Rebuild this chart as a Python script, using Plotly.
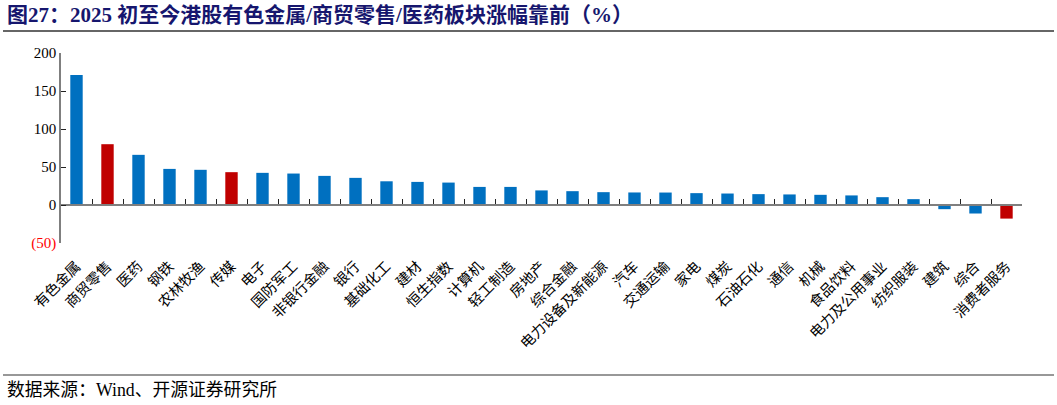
import plotly.graph_objects as go

categories = ["有色金属", "商贸零售", "医药", "钢铁", "农林牧渔", "传媒", "电子", "国防军工",
              "非银行金融", "银行", "基础化工", "建材", "恒生指数", "计算机", "轻工制造", "房地产",
              "综合金融", "电力设备及新能源", "汽车", "交通运输", "家电", "煤炭", "石油石化", "通信",
              "机械", "食品饮料", "电力及公用事业", "纺织服装", "建筑", "综合", "消费者服务"]
values = [171.0, 80.0, 66.0, 47.5, 46.3, 43.2, 42.3, 41.4,
          38.3, 35.7, 31.2, 30.4, 29.5, 23.8, 23.8, 19.2,
          18.2, 16.9, 16.5, 16.4, 15.6, 15.1, 14.3, 13.9,
          13.4, 12.6, 10.3, 7.7, -5.5, -11.2, -17.9]
highlight = ["商贸零售", "传媒", "消费者服务"]
y_tickvals = [200, 150, 100, 50, 0, -50]
y_ticktext = ["200", "150", "100", "50", "0", "<span style='color:#FF0000'>(50)</span>"]

BLUE = "#0070C0"
RED = "#C00000"
colors = [RED if c in highlight else BLUE for c in categories]

SERIF = "Liberation Serif, Times New Roman, Noto Sans CJK SC"
CJK = "Liberation Serif, Noto Sans CJK SC"

W, H = 1057, 405
L, R, T, B = 61, 35, 53, 162
pw, ph = W - L - R, H - T - B


def px_x(px):
    return (px - L) / pw


def px_y(py):
    return (H - B - py) / ph


fig = go.Figure()
fig.add_trace(go.Bar(x=categories, y=values, marker=dict(color=colors, line=dict(width=0)),
                     width=0.4, xaxis="x", yaxis="y", hoverinfo="x+y"))
# helper trace to render the zero-line category axis
fig.add_trace(go.Scatter(x=categories, y=[0] * len(categories), mode="markers",
                         marker=dict(opacity=0, size=1), xaxis="x2", yaxis="y",
                         hoverinfo="skip", showlegend=False))

ymin, ymax = -50, 200
zero_pos = (0 - ymin) / (ymax - ymin)

fig.update_layout(
    width=W, height=H,
    margin=dict(l=L, r=R, t=T, b=B),
    paper_bgcolor="white", plot_bgcolor="white",
    showlegend=False,
    bargap=0.6,
    font=dict(family=CJK, size=14, color="black"),
    xaxis=dict(type="category", range=[-0.5, len(categories) - 0.5],
               showline=False, ticks="", showgrid=False, zeroline=False,
               tickangle=-45, ticklabelstandoff=11,
               tickfont=dict(family=CJK, size=14.5, color="black")),
    xaxis2=dict(type="category", overlaying="x", anchor="free", position=zero_pos,
                range=[-0.5, len(categories) - 0.5], showline=True, linecolor="#7F7F7F",
                linewidth=1.5, ticks="inside", tickson="boundaries", ticklen=5,
                tickcolor="#222222", tickwidth=1, showticklabels=False, showgrid=False,
                zeroline=False),
    yaxis=dict(range=[ymin, ymax], tickvals=y_tickvals, ticktext=y_ticktext,
               showline=True, linecolor="#7F7F7F", linewidth=1.5, ticks="inside",
               ticklen=5, tickcolor="#222222", showgrid=False, zeroline=False,
               tickfont=dict(family=SERIF, size=15, color="black")),
    shapes=[
        dict(type="line", xref="paper", yref="paper", x0=px_x(3), x1=px_x(1054),
             y0=px_y(31), y1=px_y(31), line=dict(color="#333333", width=1.5)),
        dict(type="line", xref="paper", yref="paper", x0=px_x(3), x1=px_x(1054),
             y0=px_y(375), y1=px_y(375), line=dict(color="#333333", width=1.2)),
    ],
    annotations=[
        dict(text="<b>图27：2025 初至今港股有色金属/商贸零售/医药板块涨幅靠前（%）</b>",
             xref="paper", yref="paper", x=px_x(5), y=px_y(15), xanchor="left",
             yanchor="middle", showarrow=False,
             font=dict(family=SERIF, size=21, color="#16166E")),
        dict(text="数据来源：Wind、开源证券研究所", xref="paper", yref="paper",
             x=px_x(5), y=px_y(390), xanchor="left", yanchor="middle", showarrow=False,
             font=dict(family=CJK, size=17.8, color="black")),
    ],
)

fig.write_html("out.html")
